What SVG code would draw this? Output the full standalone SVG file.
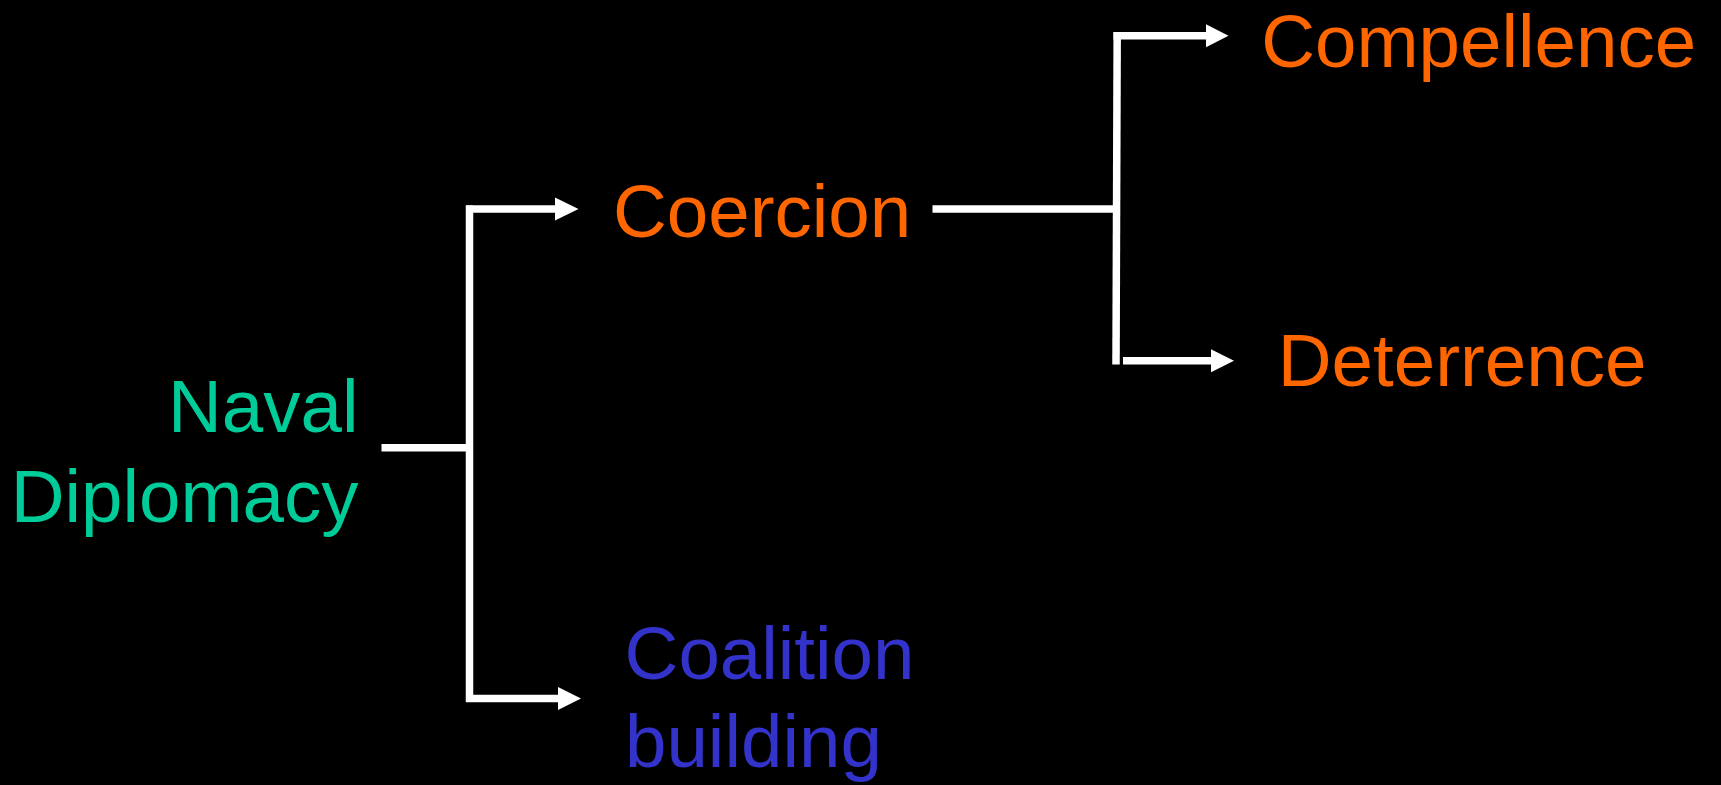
<svg xmlns="http://www.w3.org/2000/svg" width="1721" height="785" viewBox="0 0 1721 785">
<defs>
<style>
.t{font-family:"Liberation Sans",Arial,sans-serif;font-size:74.5px}
.teal{fill:#00CC99}
.or{fill:#FF6600}
.bl{fill:#3333CC}
.c{fill:none;stroke:#ffffff;stroke-width:7.5}
.h{fill:#ffffff}
</style>
</defs>
<rect width="1721" height="785" fill="#000000"/>
<g id="connectors">
<path class="c" d="M381.5,447.7 H470"/>
<path class="c" d="M469.5,205.5 V702"/>
<path class="c" d="M466,209 H556"/>
<path class="h" d="M555,197.5 L578.5,209 L555,220.5 Z"/>
<path class="c" d="M466,698.5 H559"/>
<path class="h" d="M558,687 L581,698.5 L558,710 Z"/>
<path class="c" d="M932.5,209 H1117"/>
<path class="c" d="M1117.2,32 L1116,364.5"/>
<path class="c" d="M1113.5,35.8 H1207"/>
<path class="h" d="M1206,24.3 L1228.5,35.8 L1206,47.3 Z"/>
<path class="c" d="M1123,360.8 H1212"/>
<path class="h" d="M1211,349.3 L1234,360.8 L1211,372.3 Z"/>
</g>
<g id="naval">
<text class="t teal" text-anchor="end" x="358.5" y="432.3">Naval</text>
<text class="t teal" text-anchor="end" x="358.5" y="521.7">Diplomacy</text>
</g>
<g id="coercion">
<text class="t or" x="613" y="236.7">Coercion</text>
</g>
<g id="coalition">
<text class="t bl" x="624.6" y="679">Coalition</text>
<text class="t bl" x="625" y="766.7">building</text>
</g>
<g id="compellence">
<text class="t or" x="1261.3" y="66.5">Compellence</text>
</g>
<g id="deterrence">
<text class="t or" x="1277.8" y="386">Deterrence</text>
</g>
</svg>
